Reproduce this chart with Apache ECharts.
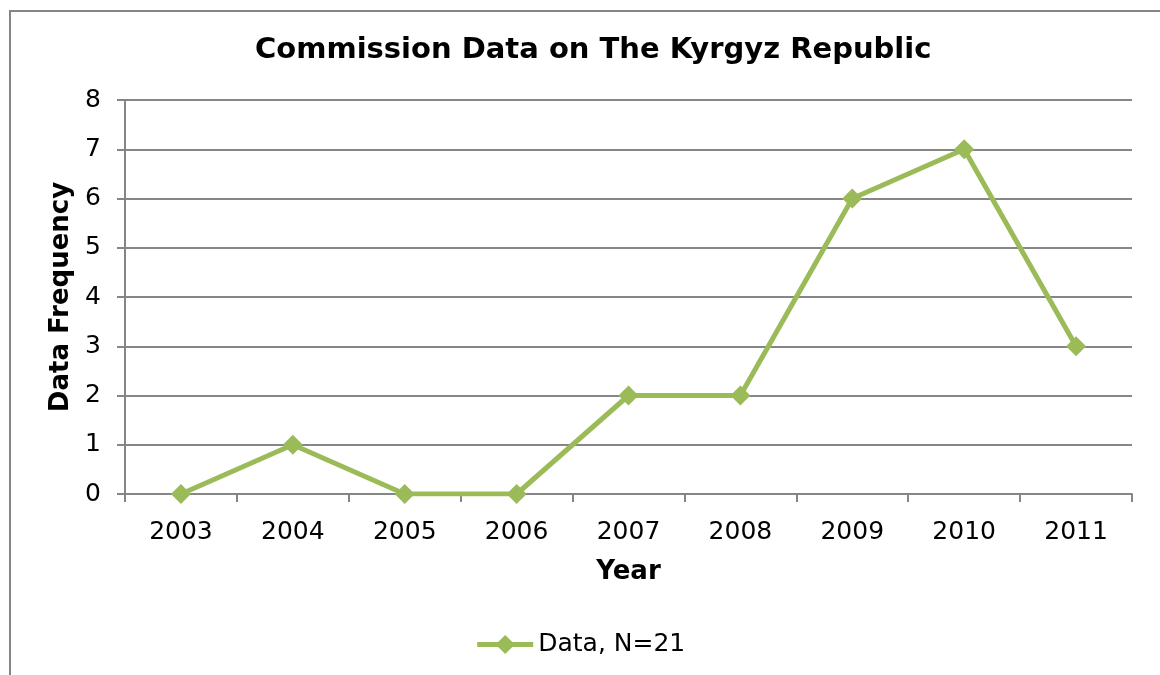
<!DOCTYPE html>
<html>
<head>
<meta charset="utf-8">
<script src="https://cdn.jsdelivr.net/npm/echarts@6/dist/echarts.min.js"></script>
<style>
  html, body { margin: 0; padding: 0; background: #fff; }
  #chart { width: 1160px; height: 675px; }
</style>
</head>
<body>
<div id="chart"></div>
<script>
// 数据
const years = ["2003", "2004", "2005", "2006", "2007", "2008", "2009", "2010", "2011"];
const frequency = [0, 1, 0, 0, 2, 2, 6, 7, 3];
const seriesName = "Data, N=21";

const chart = echarts.init(document.getElementById("chart"));
const font = "DejaVu Sans, Verdana, sans-serif";
const gray = "#868686";
const green = "#9bbb59";

const option = {
  animation: false,
  textStyle: { fontFamily: font },
  title: {
    text: "Commission Data on The Kyrgyz Republic",
    left: 250,
    top: 31,
    textStyle: { fontSize: 29, fontWeight: "bold", color: "#000", fontFamily: font },
  },
  graphic: [
    {
      type: "rect",
      shape: { x: 10, y: 11, width: 1200, height: 700 },
      style: { fill: "none", stroke: gray, lineWidth: 2 },
      silent: true,
    },
  ],
  legend: {
    bottom: 13,
    left: "center",
    itemWidth: 56,
    itemHeight: 24,
    itemGap: 4,
    textStyle: { fontSize: 25, color: "#000", fontFamily: font },
    lineStyle: { width: 5, color: green },
    itemStyle: { color: green },
    data: [seriesName],
  },
  grid: { left: 125, right: 28, top: 100, bottom: 181 },
  xAxis: {
    type: "category",
    data: years,
    boundaryGap: true,
    name: "Year",
    nameLocation: "middle",
    nameGap: 65,
    nameTextStyle: { fontSize: 26, fontWeight: "bold", color: "#000" },
    axisLine: { lineStyle: { color: gray, width: 2 } },
    axisTick: { show: true, length: 8, alignWithLabel: false, lineStyle: { color: gray, width: 2 } },
    axisLabel: { fontSize: 25, color: "#000", margin: 26 },
  },
  yAxis: {
    type: "value",
    min: 0,
    max: 8,
    interval: 1,
    name: "Data Frequency",
    nameLocation: "middle",
    nameGap: 48,
    nameTextStyle: { fontSize: 26, fontWeight: "bold", color: "#000" },
    axisLine: { show: true, lineStyle: { color: gray, width: 2 } },
    axisTick: { show: true, length: 8, inside: false, lineStyle: { color: gray, width: 2 } },
    axisLabel: { fontSize: 25, color: "#000", margin: 24 },
    splitLine: { lineStyle: { color: gray, width: 2 } },
  },
  series: [
    {
      name: seriesName,
      type: "line",
      data: frequency,
      symbol: "diamond",
      symbolSize: 20,
      lineStyle: { color: green, width: 5 },
      itemStyle: { color: green },
    },
  ],
};

chart.setOption(option);
</script>
</body>
</html>
